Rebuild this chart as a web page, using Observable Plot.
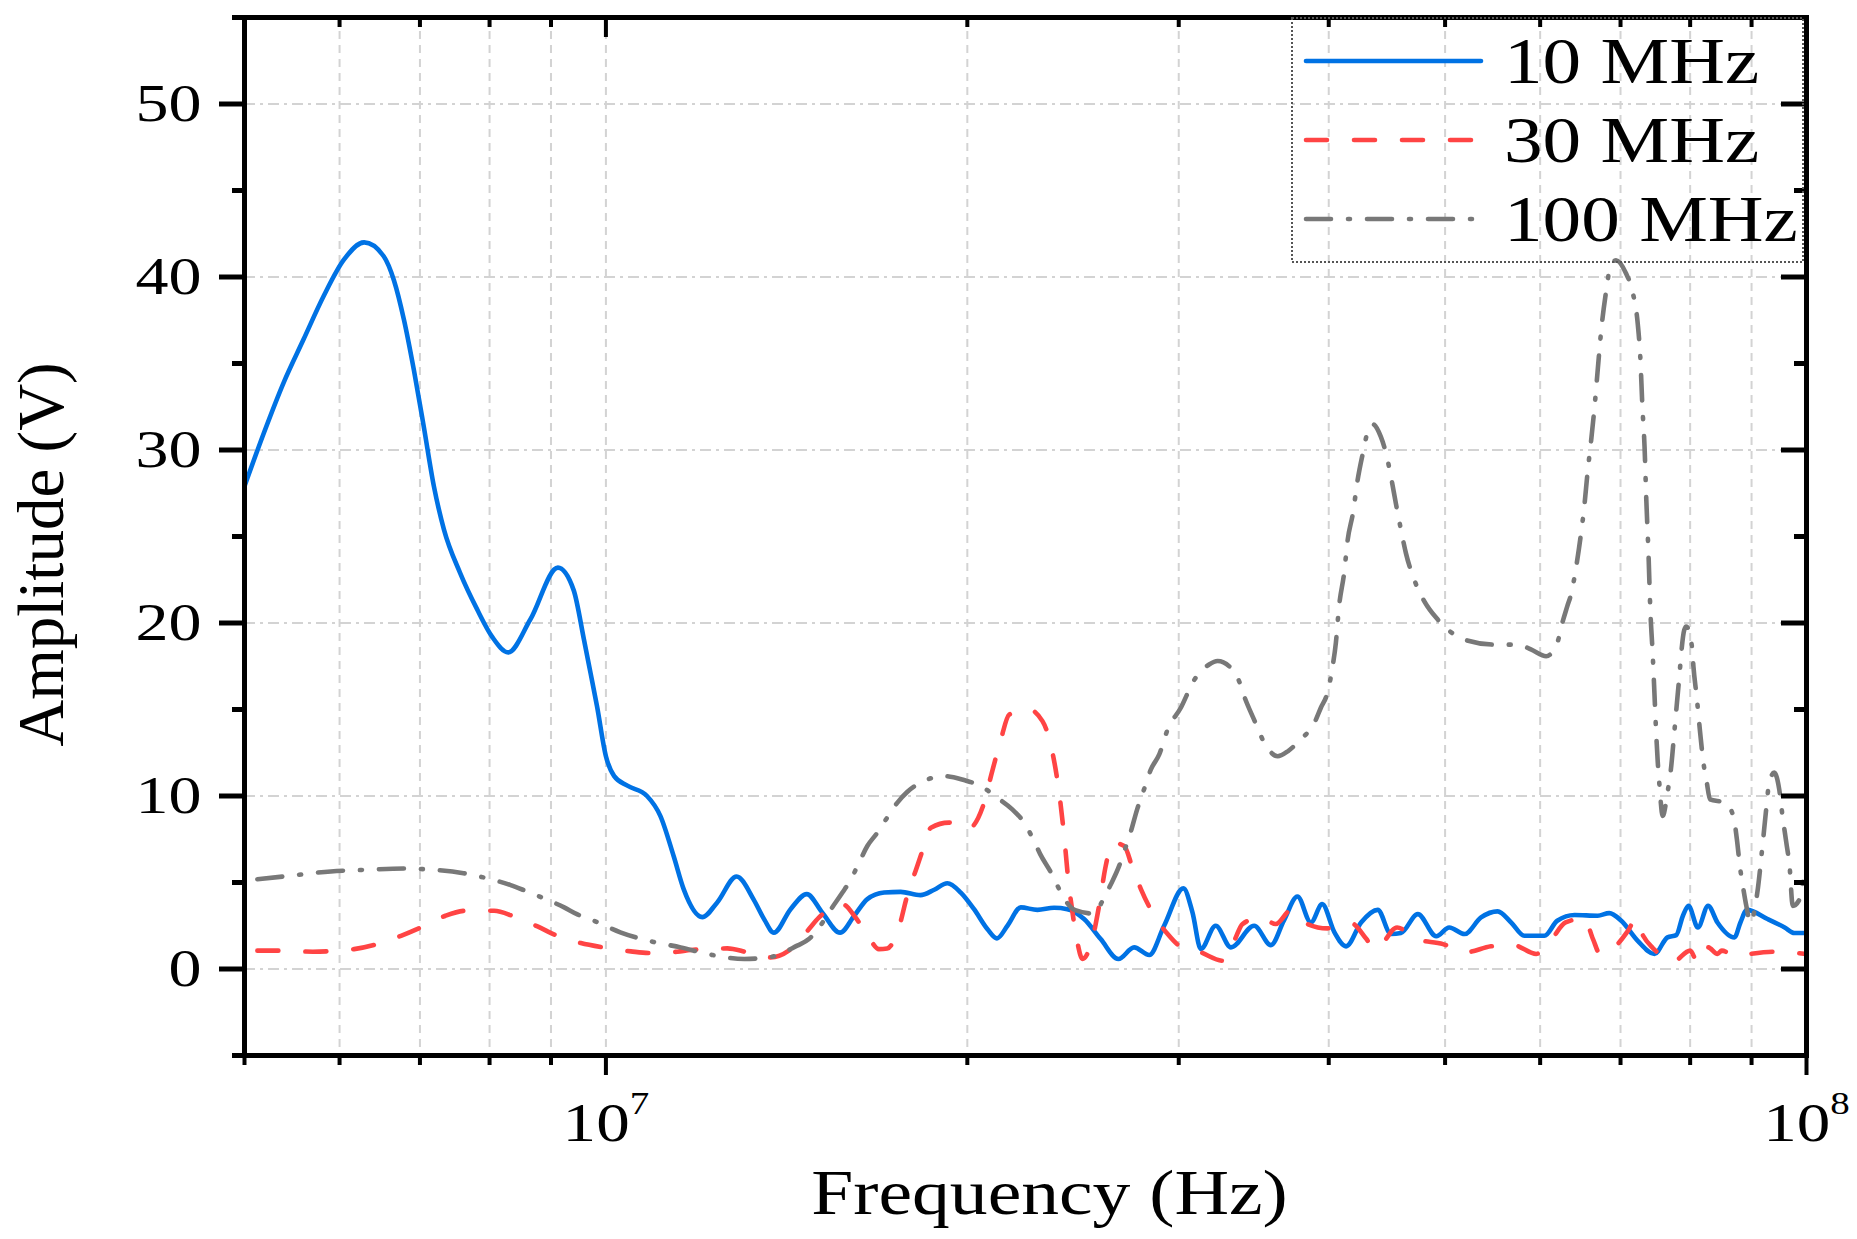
<!DOCTYPE html>
<html>
<head>
<meta charset="utf-8">
<script src="https://cdn.jsdelivr.net/npm/d3@7"></script>
<script src="https://cdn.jsdelivr.net/npm/@observablehq/plot@0.6"></script>
<style>
html, body { margin: 0; padding: 0; background: #fff; }
#chart { width: 1857px; height: 1239px; }
</style>
</head>
<body>
<div id="chart"></div>
<script>
// ---------- data ----------
const seriesNames = ["10 MHz", "30 MHz", "100 MHz"];

const f10 = [5.00e6,5.19e6,5.39e6,5.60e6,5.82e6,6.05e6,6.29e6,6.53e6,6.66e6,6.79e6,6.92e6,7.05e6,7.19e6,7.33e6,7.56e6,7.81e6,8.04e6,8.29e6,8.65e6,9.12e6,9.40e6,9.59e6,9.71e6,9.83e6,1.000e7,1.016e7,1.042e7,1.082e7,1.110e7,1.139e7,1.161e7,1.203e7,1.238e7,1.285e7,1.328e7,1.354e7,1.380e7,1.425e7,1.470e7,1.514e7,1.567e7,1.610e7,1.651e7,1.705e7,1.760e7,1.828e7,1.877e7,1.925e7,1.975e7,2.026e7,2.079e7,2.117e7,2.160e7,2.216e7,2.288e7,2.362e7,2.423e7,2.502e7,2.583e7,2.672e7,2.754e7,2.835e7,2.917e7,3.027e7,3.080e7,3.130e7,3.220e7,3.316e7,3.467e7,3.580e7,3.670e7,3.767e7,3.865e7,3.950e7,4.044e7,4.135e7,4.256e7,4.394e7,4.507e7,4.594e7,4.745e7,4.916e7,5.040e7,5.190e7,5.357e7,5.530e7,5.675e7,5.820e7,6.050e7,6.200e7,6.410e7,6.700e7,6.850e7,7.010e7,7.235e7,7.470e7,7.660e7,7.790e7,7.890e7,7.975e7,8.120e7,8.280e7,8.430e7,8.710e7,8.810e7,8.920e7,9.280e7,9.590e7,9.770e7,1.000e8];
const a10 = [27.9,31.0,33.9,36.4,38.9,41.0,42.0,41.2,39.8,37.5,34.6,31.4,27.9,25.4,22.9,20.8,19.2,18.3,20.2,23.2,21.9,19.0,17.1,15.2,12.3,11.15,10.6,10.0,8.85,6.5,4.6,3.0,3.85,5.35,4.0,2.9,2.1,3.46,4.33,3.27,2.1,3.08,4.04,4.42,4.46,4.27,4.58,4.96,4.42,3.46,2.3,1.77,2.5,3.56,3.42,3.54,3.46,2.89,1.73,0.58,1.25,0.81,2.5,4.66,3.27,1.15,2.5,1.25,2.5,1.38,2.8,4.19,2.69,3.75,2.12,1.31,2.69,3.42,2.02,2.08,3.17,1.89,2.4,2.02,2.98,3.33,2.69,1.92,1.92,2.79,3.12,3.08,3.23,2.79,1.63,0.87,1.83,1.96,3.08,3.65,2.4,3.65,2.69,1.83,2.69,3.42,2.89,2.4,2.08,2.08];

const f30 = [5.125e6,5.35e6,5.70e6,6.17e6,6.45e6,6.75e6,7.01e6,7.35e6,7.66e6,8.07e6,8.38e6,8.77e6,9.08e6,9.53e6,9.94e6,1.049e7,1.089e7,1.147e7,1.177e7,1.262e7,1.312e7,1.371e7,1.420e7,1.472e7,1.505e7,1.574e7,1.614e7,1.662e7,1.688e7,1.715e7,1.754e7,1.782e7,1.811e7,1.841e7,1.865e7,1.931e7,2.000e7,2.059e7,2.099e7,2.133e7,2.167e7,2.244e7,2.310e7,2.355e7,2.385e7,2.408e7,2.427e7,2.447e7,2.470e7,2.494e7,2.542e7,2.575e7,2.608e7,2.642e7,2.702e7,2.745e7,2.790e7,2.852e7,2.937e7,3.003e7,3.130e7,3.263e7,3.337e7,3.390e7,3.512e7,3.614e7,3.720e7,3.840e7,3.990e7,4.175e7,4.300e7,4.365e7,4.420e7,4.560e7,4.730e7,4.980e7,5.190e7,5.460e7,5.690e7,5.955e7,6.120e7,6.300e7,6.530e7,6.640e7,6.730e7,6.940e7,7.100e7,7.210e7,7.300e7,7.450e7,7.570e7,7.740e7,8.000e7,8.120e7,8.280e7,8.430e7,8.500e7,8.740e7,8.980e7,9.400e7,1.000e8];
const a30 = [1.06,1.06,1.0,1.15,1.44,1.92,2.4,3.08,3.37,3.37,3.04,2.46,1.96,1.5,1.25,1.02,0.92,1.0,1.1,1.19,0.96,0.67,1.06,2.21,2.98,3.75,2.98,1.63,1.15,1.19,2.4,4.23,5.67,7.11,8.17,8.46,8.08,9.33,11.5,13.27,14.7,15.04,14.33,12.5,10.2,7.69,5.19,3.27,1.54,0.58,1.73,3.65,5.96,7.31,7.11,5.87,4.62,3.27,2.02,1.35,0.96,0.48,1.63,2.6,2.98,2.6,3.4,2.6,2.35,2.65,1.73,1.15,1.38,2.4,1.73,1.44,0.96,1.31,1.4,0.87,1.63,2.69,2.92,1.73,0.87,1.35,2.2,2.9,2.0,1.2,0.77,0.42,1.06,0.35,1.25,0.87,1.06,0.73,0.87,1.0,0.87];

const f100 = [5.125e6,5.39e6,5.90e6,6.29e6,6.79e6,7.05e6,7.61e6,7.91e6,8.33e6,8.57e6,8.82e6,9.23e6,9.46e6,9.77e6,1.028e7,1.093e7,1.154e7,1.226e7,1.304e7,1.373e7,1.443e7,1.476e7,1.505e7,1.540e7,1.574e7,1.600e7,1.625e7,1.651e7,1.683e7,1.715e7,1.749e7,1.782e7,1.841e7,1.912e7,1.987e7,2.052e7,2.118e7,2.180e7,2.230e7,2.273e7,2.300e7,2.348e7,2.385e7,2.415e7,2.460e7,2.550e7,2.592e7,2.630e7,2.676e7,2.700e7,2.735e7,2.770e7,2.807e7,2.844e7,2.890e7,2.937e7,3.012e7,3.090e7,3.180e7,3.232e7,3.316e7,3.370e7,3.400e7,3.467e7,3.534e7,3.627e7,3.700e7,3.790e7,3.890e7,3.940e7,3.990e7,4.030e7,4.055e7,4.080e7,4.120e7,4.148e7,4.190e7,4.228e7,4.270e7,4.310e7,4.350e7,4.420e7,4.465e7,4.507e7,4.550e7,4.594e7,4.638e7,4.713e7,4.805e7,4.930e7,5.190e7,5.500e7,5.750e7,5.900e7,6.070e7,6.200e7,6.260e7,6.320e7,6.370e7,6.430e7,6.490e7,6.530e7,6.570e7,6.617e7,6.660e7,6.700e7,6.745e7,6.810e7,6.850e7,6.940e7,7.075e7,7.160e7,7.235e7,7.270e7,7.300e7,7.330e7,7.355e7,7.387e7,7.410e7,7.447e7,7.470e7,7.493e7,7.516e7,7.540e7,7.590e7,7.660e7,7.710e7,7.760e7,7.800e7,7.840e7,7.865e7,7.910e7,7.940e7,8.030e7,8.050e7,8.100e7,8.155e7,8.200e7,8.260e7,8.310e7,8.550e7,8.690e7,8.750e7,8.800e7,8.860e7,8.910e7,8.980e7,9.100e7,9.190e7,9.250e7,9.310e7,9.400e7,9.490e7,9.550e7,9.620e7,9.680e7,9.740e7,9.870e7,9.970e7,1.000e8];
const a100 = [5.19,5.35,5.64,5.73,5.81,5.77,5.54,5.29,4.85,4.52,4.17,3.56,3.17,2.79,2.12,1.58,1.25,0.81,0.58,0.7,1.35,1.73,2.4,3.46,4.42,5.19,6.15,7.11,7.88,8.75,9.62,10.23,10.87,11.15,10.92,10.58,9.9,9.23,8.46,7.4,6.64,5.58,4.62,3.94,3.4,3.2,3.94,4.81,5.96,6.73,7.88,9.23,10.39,11.54,12.4,13.85,15.1,16.7,17.6,17.8,17.4,16.6,15.8,14.4,13.1,12.3,12.6,13.27,14.2,15.1,15.97,17.5,18.85,20.96,22.9,24.8,26.35,28.27,29.8,31.06,31.5,30.77,29.8,28.46,26.9,25.4,24.04,22.5,21.25,20.2,19.04,18.75,18.75,18.46,18.08,18.85,20.0,20.96,21.73,23.27,25.2,26.73,28.65,30.58,32.5,34.6,36.9,39.2,40.3,40.97,40.2,39.2,37.3,35.4,32.5,30.2,27.1,23.85,20.96,18.08,15.97,13.85,12.1,10.77,8.85,10.2,11.54,13.66,15.39,17.1,18.27,19.6,19.8,18.56,17.5,15.77,13.66,12.1,10.77,9.8,9.62,8.85,7.5,5.96,4.62,3.65,2.69,4.42,7.11,9.04,10.77,11.35,10.39,8.85,7.31,5.96,3.65,4.04,5.77,6.0];

// ticks & labels
const xMajorTicks = [1e7, 1e8];
const xMinorTicks = [5e6, 6e6, 7e6, 8e6, 9e6, 2e7, 3e7, 4e7, 5e7, 6e7, 7e7, 8e7, 9e7];
const xGridTicks = [6e6, 7e6, 8e6, 9e6, 1e7, 2e7, 3e7, 4e7, 5e7, 6e7, 7e7, 8e7, 9e7];
const yMajorTicks = [0, 10, 20, 30, 40, 50];
const yMinorTicks = [-5, 5, 15, 25, 35, 45, 55];
const xLabel = "Frequency (Hz)";
const yLabel = "Amplitude (V)";

// ---------- styles ----------
const W = 1857, H = 1239;
const mL = 244, mR = 51, mT = 17, mB = 184;
const FW = W - mL - mR, FH = H - mT - mB;
const FONT = "'Liberation Serif', 'Times New Roman', Times, serif";
const styles = [
  {color: "#0072e4", dash: null, cap: "round"},
  {color: "#ff4444", dash: "21,27", cap: "round"},
  {color: "#787878", dash: "25,17,2,17", cap: "round"}
];

const rows = (F, A, name) => F.map((f, i) => ({f, a: A[i], series: name}));
const data = [rows(f10, a10, seriesNames[0]), rows(f30, a30, seriesNames[1]), rows(f100, a100, seriesNames[2])];

const gridColor = "#d3d3d3";

const chart = Plot.plot({
  width: W,
  height: H,
  marginLeft: mL,
  marginRight: mR,
  marginTop: mT,
  marginBottom: mB,
  style: {fontFamily: FONT, background: "#fff", overflow: "visible"},
  x: {type: "log", domain: [5e6, 1e8]},
  y: {domain: [-5, 55]},
  marks: [
    // grid
    Plot.ruleX(xGridTicks, {x: d => d, stroke: gridColor, strokeWidth: 2, strokeDasharray: "8,6"}),
    Plot.ruleY(yMajorTicks, {y: d => d, stroke: gridColor, strokeWidth: 2, strokeDasharray: "11,5,3,5"}),
    // data lines
    ...data.map((d, i) => Plot.line(d, {
      x: "f", y: "a",
      stroke: styles[i].color,
      strokeWidth: 4.6,
      strokeDasharray: styles[i].dash,
      strokeLinecap: styles[i].cap,
      strokeLinejoin: "round",
      curve: "monotone-x"
    })),
    // frame
    Plot.frame({stroke: "black", strokeWidth: 5}),
    // bottom ticks (outward)
    Plot.tickX(xMajorTicks, {x: d => d, insetTop: FH, insetBottom: -20, strokeWidth: 4}),
    Plot.tickX(xMinorTicks, {x: d => d, insetTop: FH, insetBottom: -10, strokeWidth: 4}),
    // top ticks (inward)
    Plot.tickX(xMajorTicks, {x: d => d, insetTop: 0, insetBottom: FH - 20, strokeWidth: 4}),
    Plot.tickX(xMinorTicks, {x: d => d, insetTop: 0, insetBottom: FH - 10, strokeWidth: 4}),
    // left ticks (outward)
    Plot.tickY(yMajorTicks, {y: d => d, insetLeft: -25, insetRight: FW, strokeWidth: 5}),
    Plot.tickY(yMinorTicks, {y: d => d, insetLeft: -12, insetRight: FW, strokeWidth: 5}),
    // right ticks (inward)
    Plot.tickY(yMajorTicks, {y: d => d, insetLeft: FW - 25, insetRight: 0, strokeWidth: 5}),
    Plot.tickY(yMinorTicks, {y: d => d, insetLeft: FW - 12, insetRight: 0, strokeWidth: 5}),
    // tick labels
    Plot.axisY({ticks: yMajorTicks, tickSize: 0, tickPadding: 43, fontSize: 52, label: null, tickFormat: d => String(d)}),
    Plot.axisX({ticks: xMajorTicks, tickSize: 0, tickPadding: 46, fontSize: 55, label: null,
      tickFormat: d => "10^" + Math.round(Math.log10(d))}),
    // axis titles
    Plot.text([xLabel], {text: d => d, frameAnchor: "bottom", textAnchor: "middle", lineAnchor: "bottom", dx: 24, dy: 158, fontSize: 63, fill: "black"}),
    Plot.text([yLabel], {text: d => d, frameAnchor: "left", textAnchor: "middle", lineAnchor: "bottom", rotate: -90, dx: -182, dy: 18, fontSize: 65, fill: "black"})
  ]
});

document.getElementById("chart").appendChild(chart);

// superscript exponents on x tick labels
chart.querySelectorAll('g[aria-label="x-axis tick label"] text').forEach(t => {
  const parts = t.textContent.split("^");
  if (parts.length !== 2) return;
  t.textContent = parts[0];
  const ts = document.createElementNS("http://www.w3.org/2000/svg", "tspan");
  ts.setAttribute("font-size", "32");
  ts.setAttribute("dy", "-27");
  ts.textContent = parts[1];
  t.appendChild(ts);
});

// legend (inside the frame, top right)
const svg = d3.select(chart);
const lg = svg.append("g").attr("aria-label", "legend").attr("font-family", FONT).attr("text-anchor", "start");
lg.append("rect")
  .attr("x", 1292).attr("y", 18).attr("width", 511).attr("height", 244)
  .attr("fill", "none").attr("stroke", "#555").attr("stroke-width", 2).attr("stroke-dasharray", "2,2");
seriesNames.forEach((name, i) => {
  const y = 61 + i * 79;
  lg.append("line")
    .attr("x1", 1306).attr("x2", 1481).attr("y1", y).attr("y2", y)
    .attr("stroke", styles[i].color).attr("stroke-width", 4.6)
    .attr("stroke-linecap", styles[i].cap)
    .attr("stroke-dasharray", styles[i].dash);
  lg.append("text")
    .attr("class", "legend-text")
    .attr("x", 1504).attr("y", y + 22)
    .attr("text-anchor", "start")
    .attr("font-size", 66).attr("fill", "black")
    .text(name);
});

// Horizontal text in the reference is rendered wider than the font's natural width
function stretch(nodes, k) {
  nodes.forEach(t => {
    const L = t.getComputedTextLength();
    if (L > 0) {
      t.setAttribute("textLength", (L * k).toFixed(1));
      t.setAttribute("lengthAdjust", "spacingAndGlyphs");
    }
  });
}
stretch(chart.querySelectorAll('g[aria-label="y-axis tick label"] text'), 1.27);
stretch(chart.querySelectorAll('g[aria-label="x-axis tick label"] text'), 1.22);
stretch(chart.querySelectorAll('.legend-text'), 1.17);
stretch([...chart.querySelectorAll('g[aria-label="text"] text')].filter(t => t.textContent === xLabel), 1.2);
</script>
</body>
</html>
